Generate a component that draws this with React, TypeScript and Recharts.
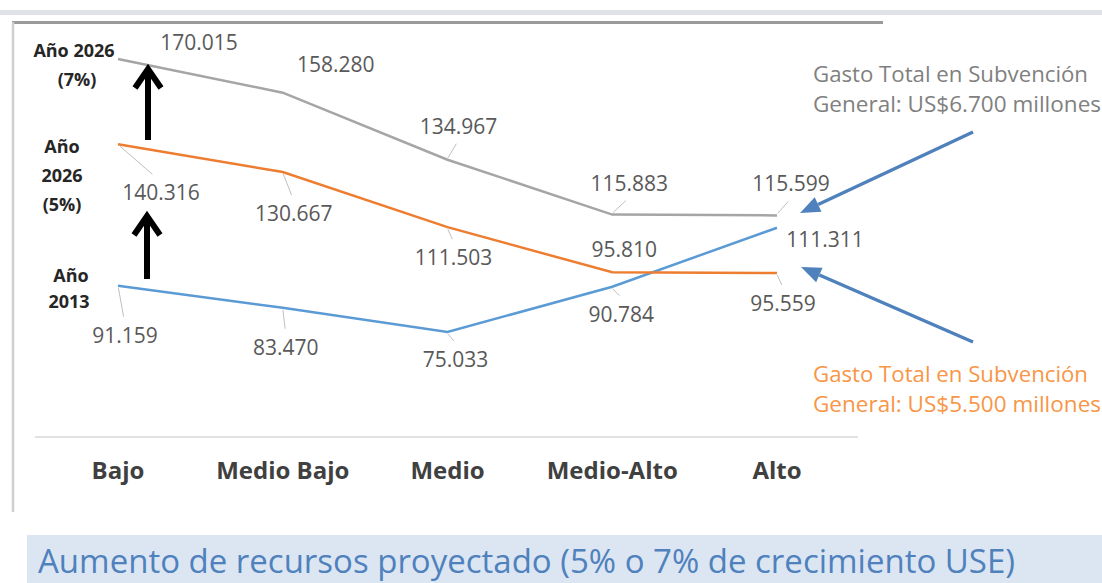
import { LineChart, Line, XAxis, YAxis, LabelList } from 'recharts'

const CATEGORIAS = ['Bajo', 'Medio Bajo', 'Medio', 'Medio-Alto', 'Alto']
const ANIO_2013 = [91159, 83470, 75033, 90784, 111311]
const ANIO_2026_5 = [140316, 130667, 111503, 95810, 95559]
const ANIO_2026_7 = [170015, 158280, 134967, 115883, 115599]

// desplazamiento de cada etiqueta respecto a su punto (dx, dy)
const OFF_7: [number, number][] = [[81, -17], [53, -29], [11, -34], [17, -32], [14, -32]]
const OFF_5: [number, number][] = [[43, 48], [11, 41], [6, 30], [12, -23], [6, 30]]
const OFF_13: [number, number][] = [[7, 49], [3, 39], [8, 27], [9, 27], [48, 11]]

const FONT = '"Open Sans", sans-serif'

const data = CATEGORIAS.map((cat, i) => ({
  cat,
  a2013: ANIO_2013[i],
  a2026_5: ANIO_2026_5[i],
  a2026_7: ANIO_2026_7[i],
}))

function fmt(v: number) {
  const miles = Math.floor(v / 1000)
  const resto = String(v % 1000).padStart(3, '0')
  return `${miles}.${resto}`
}

function etiqueta(offsets: [number, number][], serie: number[]) {
  return (p: any) => {
    const x = Number(p.x)
    const y = Number(p.y)
    const idx = typeof p.index === 'number' ? p.index : serie.indexOf(p.value)
    const [dx, dy] = offsets[idx] ?? [0, -20]
    const cx = x + dx
    const cy = y + dy
    const s = Math.sign(dy)
    const leader = Math.abs(dy) >= 26 && Math.abs(dx) < 45
    return (
      <g key={`l-${idx}`}>
        {leader && (
          <line
            x1={x + dx * 0.05}
            y1={y + s * 2}
            x2={cx - dx * 0.2}
            y2={cy - s * 18}
            stroke="#bfbfbf"
            strokeWidth={1}
          />
        )}
        <text
          x={cx}
          y={cy}
          textAnchor="middle"
          dominantBaseline="central"
          fontFamily={FONT}
          fontSize={21}
          fill="#595959"
        >
          {fmt(Number(p.value))}
        </text>
      </g>
    )
  }
}

function Flecha({ x, y1, y2 }: { x: number; y1: number; y2: number }) {
  return (
    <g stroke="#000" strokeWidth={6} fill="none">
      <line x1={x} y1={y1} x2={x} y2={y2 + 3} />
      <polyline points={`${x - 13},${y2 + 22} ${x},${y2 + 3} ${x + 13},${y2 + 22}`} strokeLinejoin="miter" />
    </g>
  )
}

function FlechaAzul({ x1, y1, x2, y2 }: { x1: number; y1: number; x2: number; y2: number }) {
  const ang = Math.atan2(y2 - y1, x2 - x1)
  const len = 20
  const w = 8
  const bx = x2 - len * Math.cos(ang)
  const by = y2 - len * Math.sin(ang)
  const px = -Math.sin(ang) * w
  const py = Math.cos(ang) * w
  return (
    <g>
      <line x1={x1} y1={y1} x2={bx} y2={by} stroke="#4f81bd" strokeWidth={3.5} />
      <polygon points={`${x2},${y2} ${bx + px},${by + py} ${bx - px},${by - py}`} fill="#4f81bd" />
    </g>
  )
}

export default function App() {
  const lbl = { fontFamily: FONT, fontSize: 18, fontWeight: 700, fill: '#262626', textAnchor: 'middle' as const }
  return (
    <div style={{ position: 'absolute', left: 0, top: 0, width: 1102, height: 583, background: '#fff', overflow: 'hidden' }}>
      <svg width={1102} height={583} style={{ position: 'absolute', left: 0, top: 0 }}>
        <rect x={0} y={10} width={1102} height={5} fill="#dfe3e8" />
        <line x1={12} y1={22.5} x2={883} y2={22.5} stroke="#9a9a9a" strokeWidth={3} />
        <line x1={13} y1={22} x2={13} y2={512} stroke="#cfcfcf" strokeWidth={2.5} />
        <rect x={27} y={535} width={1075} height={48} fill="#dce6f2" />
        <text x={38} y={573} fontFamily={FONT} fontSize={32} fill="#4f81bd" textLength={977} lengthAdjust="spacingAndGlyphs">
          Aumento de recursos proyectado (5% o 7% de crecimiento USE)
        </text>
      </svg>

      <LineChart
        width={1102}
        height={583}
        data={data}
        margin={{ top: 30, left: 35, right: 244, bottom: 86 }}
        style={{ position: 'absolute', left: 0, top: 0 }}
      >
        <XAxis
          dataKey="cat"
          height={60}
          interval={0}
          padding={{ left: 83, right: 81 }}
          axisLine={{ stroke: '#d9d9d9', strokeWidth: 1.5 }}
          tickLine={false}
          tickSize={0}
          tickMargin={25}
          tick={{ fontFamily: FONT, fontSize: 24, fontWeight: 700, fill: '#404040' }}
        />
        <YAxis hide domain={[38500, 180100]} allowDataOverflow />
        <Line type="linear" dataKey="a2013" stroke="#5b9bd5" strokeWidth={2.5} dot={false} isAnimationActive={false}>
          <LabelList dataKey="a2013" content={etiqueta(OFF_13, ANIO_2013)} />
        </Line>
        <Line type="linear" dataKey="a2026_5" stroke="#ed7d31" strokeWidth={2.5} dot={false} isAnimationActive={false}>
          <LabelList dataKey="a2026_5" content={etiqueta(OFF_5, ANIO_2026_5)} />
        </Line>
        <Line type="linear" dataKey="a2026_7" stroke="#a5a5a5" strokeWidth={2.5} dot={false} isAnimationActive={false}>
          <LabelList dataKey="a2026_7" content={etiqueta(OFF_7, ANIO_2026_7)} />
        </Line>
      </LineChart>

      <svg width={1102} height={583} style={{ position: 'absolute', left: 0, top: 0, pointerEvents: 'none' }}>
        <text x={74} y={57} {...lbl}>Año 2026</text>
        <text x={77} y={86} {...lbl}>(7%)</text>
        <text x={62} y={153} {...lbl}>Año</text>
        <text x={62} y={182} {...lbl}>2026</text>
        <text x={62} y={211} {...lbl}>(5%)</text>
        <text x={71} y={282} {...lbl}>Año</text>
        <text x={69} y={308} {...lbl}>2013</text>

        <Flecha x={148} y1={140} y2={66} />
        <Flecha x={147} y1={279} y2={213} />

        <text x={813} y={82} fontFamily={FONT} fontSize={22} fill="#808080" textLength={275} lengthAdjust="spacingAndGlyphs">
          Gasto Total en Subvención
        </text>
        <text x={813} y={112} fontFamily={FONT} fontSize={22} fill="#808080" textLength={288} lengthAdjust="spacingAndGlyphs">
          General: US$6.700 millones
        </text>
        <text x={813} y={382} fontFamily={FONT} fontSize={22} fill="#f79646" textLength={275} lengthAdjust="spacingAndGlyphs">
          Gasto Total en Subvención
        </text>
        <text x={813} y={412} fontFamily={FONT} fontSize={22} fill="#f79646" textLength={288} lengthAdjust="spacingAndGlyphs">
          General: US$5.500 millones
        </text>

        <FlechaAzul x1={973} y1={132} x2={800} y2={213} />
        <FlechaAzul x1={973} y1={342} x2={801} y2={267} />
      </svg>
    </div>
  )
}
